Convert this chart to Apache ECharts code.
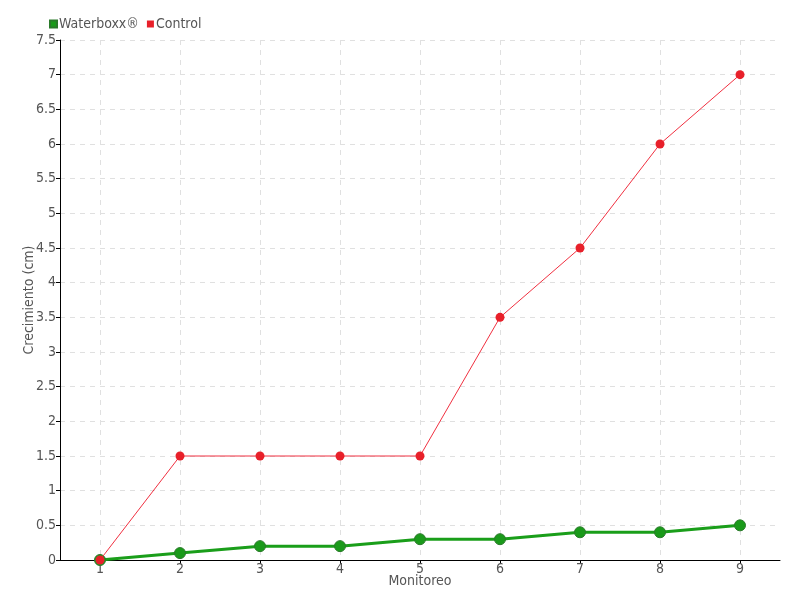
<!DOCTYPE html>
<html><head><meta charset="utf-8">
<script src="https://cdn.jsdelivr.net/npm/echarts@6/dist/echarts.min.js"></script>
<style>html,body{margin:0;padding:0;background:#fff}#c{width:800px;height:600px}</style>
</head><body><div id="c"></div>
<script>
const categories = ['1','2','3','4','5','6','7','8','9'];
const waterboxx = [0, 0.1, 0.2, 0.2, 0.3, 0.3, 0.4, 0.4, 0.5];
const control = [0, 1.5, 1.5, 1.5, 1.5, 3.5, 4.5, 6, 7];
const FONT = "'DejaVu Sans Condensed', 'Open Sans', sans-serif";
const chart = echarts.init(document.getElementById('c'));
chart.setOption({
  animation: false,
  textStyle: {fontFamily: FONT},
  legend: {
    left: 44, top: 12, itemWidth: 7, itemHeight: 7, itemGap: 8,
    icon: 'rect',
    textStyle: {fontFamily: FONT, fontSize: 14, color: '#555', padding: [0,0,0,-3]},
    data: ['Waterboxx®', 'Control']
  },
  grid: {left: 60, right: 20, top: 40, bottom: 40, containLabel: false},
  xAxis: {
    type: 'category', data: categories, boundaryGap: true,
    name: 'Monitoreo', nameLocation: 'middle', nameGap: 14, nameMoveOverlap: false,
    nameTextStyle: {fontFamily: FONT, fontSize: 14, color: '#555'},
    axisLine: {lineStyle: {color: '#000', width: 1}},
    axisTick: {show: true, alignWithLabel: true, length: 4, lineStyle: {color: '#000'}},
    axisLabel: {fontFamily: FONT, fontSize: 14, color: '#555', margin: 2},
    splitLine: {show: true, alignWithLabel: true, interval: 0, lineStyle: {color: '#e0e0e0', type: [5, 5]}}
  },
  yAxis: {
    type: 'value', min: 0, max: 7.5, interval: 0.5,
    name: 'Crecimiento (cm)', nameLocation: 'middle', nameGap: 24, nameMoveOverlap: false,
    nameTextStyle: {fontFamily: FONT, fontSize: 14, color: '#555'},
    axisLine: {show: true, lineStyle: {color: '#000', width: 1}},
    axisTick: {show: true, length: 4, lineStyle: {color: '#000'}},
    axisLabel: {fontFamily: FONT, fontSize: 14, color: '#555', margin: 4},
    splitLine: {show: true, lineStyle: {color: '#e0e0e0', type: [5, 5]}}
  },
  series: [
    {
      name: 'Waterboxx®', type: 'line', data: waterboxx,
      color: '#1a9a1a',
      lineStyle: {width: 3, color: '#1a9e1a'},
      symbol: 'circle', symbolSize: 11,
      itemStyle: {color: '#1a9a1a', borderColor: '#2a7a2a', borderWidth: 1},
      z: 2
    },
    {
      name: 'Control', type: 'line', data: control,
      color: '#e8202a',
      lineStyle: {width: 1, color: '#f03040'},
      symbol: 'circle', symbolSize: 9,
      itemStyle: {color: '#e8202a'},
      z: 3
    }
  ]
});
</script></body></html>
